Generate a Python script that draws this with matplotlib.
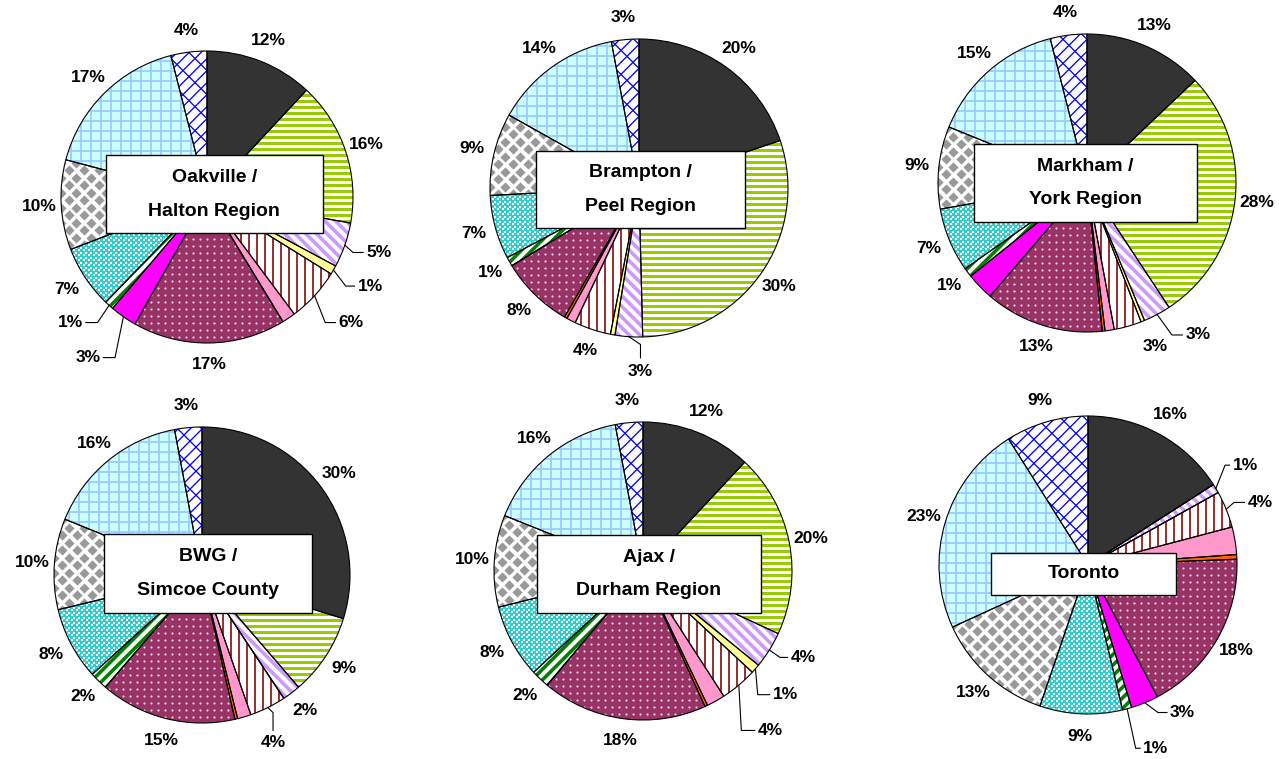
import numpy as np
import matplotlib
matplotlib.use("Agg")
import matplotlib.pyplot as plt
from matplotlib.collections import LineCollection
from matplotlib.patches import Rectangle

plt.rcParams["font.family"] = ["Liberation Sans", "DejaVu Sans"]

# ── Data: share (%) of each of the 14 segments, clockwise from 12 o'clock ──
SEGMENTS = ["s01", "s02", "s03", "s04", "s05", "s06", "s07",
            "s08", "s09", "s10", "s11", "s12", "s13", "s14"]

oakville = [12, 16, 5, 1, 6, 1.5, 0, 17, 3, 1, 7, 10, 17, 4]
brampton = [20, 30, 3, 0.5, 4, 1, 0.3, 8, 0, 1, 7, 9, 14, 3]
markham = [13, 28, 3, 0.4, 3, 1, 0.3, 13, 3, 1, 7, 9, 15, 4]
bwg = [30, 9, 2, 0, 4, 1.5, 0.3, 15, 0, 2, 8, 10, 16, 3]
ajax = [12, 20, 4, 1, 4, 2, 0.3, 18, 0, 2, 8, 10, 16, 3]
toronto = [16, 0, 1, 0, 4, 3, 0.5, 18, 3, 1, 9, 13, 23, 9]

titles = ["Oakville /\nHalton Region", "Brampton /\nPeel Region",
          "Markham /\nYork Region", "BWG /\nSimcoe County",
          "Ajax /\nDurham Region", "Toronto"]

# which slices carry a percentage label
shown = [
    [0, 1, 2, 3, 4, 7, 8, 9, 10, 11, 12, 13],
    [0, 1, 2, 4, 7, 9, 10, 11, 12, 13],
    [0, 1, 2, 4, 7, 9, 10, 11, 12, 13],
    [0, 1, 2, 4, 7, 9, 10, 11, 12, 13],
    [0, 1, 2, 3, 4, 7, 9, 10, 11, 12, 13],
    [0, 2, 4, 7, 8, 9, 10, 11, 12, 13],
]

# ── Layout ──
W, H = 1279, 759
E = 1.5  # half extent of each pie axes, in radii
# pie centre (px), radius (px), title box (cx, cy, w, h) in radii
PIES = [
    ((207, 197), 146, (0.05, 0.02, 1.49, 0.53)),
    ((639, 188), 149, (0.01, -0.01, 1.40, 0.52)),
    ((1087, 183), 149, (-0.01, 0.0, 1.50, 0.52)),
    ((202, 575), 148, (0.04, 0.01, 1.40, 0.53)),
    ((643, 571), 149, (0.04, -0.02, 1.50, 0.52)),
    ((1088, 565), 149, (-0.03, -0.06, 1.24, 0.28)),
]

# label overrides: slice -> (x, y, ha, leader points after the wedge edge)
OVERRIDES = [
    {2: (1.09, -0.38, "left", [(1.00, -0.38), (1.07, -0.38)]),
     3: (1.03, -0.61, "left", [(0.95, -0.61), (1.01, -0.61)]),
     4: (0.90, -0.86, "left", [(0.81, -0.86), (0.88, -0.86)]),
     8: (-0.73, -1.10, "right", [(-0.63, -1.10), (-0.71, -1.10)]),
     9: (-0.85, -0.86, "right", [(-0.75, -0.86), (-0.83, -0.86)])},
    {2: (0.01, -1.23, "center", [(0.01, -1.05), (0.01, -1.14)])},
    {2: (0.66, -1.02, "left", [(0.57, -1.02), (0.64, -1.02)]),
     4: (0.46, -1.10, "center", [])},
    {4: (0.48, -1.13, "center", [(0.48, -0.93), (0.48, -1.05)])},
    {2: (0.99, -0.58, "left", [(0.92, -0.58), (0.97, -0.58)]),
     3: (0.87, -0.83, "left", [(0.77, -0.83), (0.85, -0.83)]),
     4: (0.77, -1.07, "left", [(0.66, -1.07), (0.75, -1.07)])},
    {2: (0.97, 0.67, "left", [(0.92, 0.67), (0.95, 0.67)]),
     4: (1.07, 0.42, "left", [(0.98, 0.42), (1.05, 0.42)]),
     8: (0.55, -0.99, "left", [(0.47, -0.99), (0.53, -0.99)]),
     9: (0.37, -1.23, "left", [(0.32, -1.23), (0.35, -1.23)])},
]

# slice fills; textures are layered on afterwards
FILLS = ["#333333", "white", "white", "#ffff99", "white", "#ff99cc", "#ff6600",
         "#993366", "#ff00ff", "white", "#33cccc", "white", "#ccffff", "white"]

# line textures: slice -> list of (angle deg, spacing px, width px, colour)
LINES = {
    1: [(0, 6.0, 3.0, "#99cc00")],
    2: [(-45, 7.5, 3.6, "#cc99ff")],
    4: [(90, 8.0, 2.0, "#993333")],
    9: [(45, 7.5, 3.6, "#008000")],
    12: [(0, 10.0, 1.8, "#99ccff"), (90, 10.0, 1.8, "#99ccff")],
    13: [(45, 8.5, 1.3, "#0000ff"), (-45, 17.0, 1.3, "#0000ff")],
}
# marker textures: slice -> (marker, pitch px, size pt^2, colour, staggered)
MARKS = {
    7: ("o", 7.0, 2.4, "#f4dcea", False),
    10: ("s", 5.0, 3.2, "white", True),
    11: ("D", 15.0, 27, "#999999", True),
}


def line_texture(ax, wedge, angle, spacing, width, color, R):
    a = np.deg2rad(angle)
    d = np.array([np.cos(a), np.sin(a)])
    n = np.array([-np.sin(a), np.cos(a)])
    step = spacing / R
    segs = [[t * n - 1.6 * d, t * n + 1.6 * d]
            for t in np.arange(-1.6, 1.6 + step, step)]
    lc = LineCollection(segs, colors=color, linewidths=width * 0.72,
                        zorder=2, capstyle="butt")
    ax.add_collection(lc)
    lc.set_clip_path(wedge)


def mark_texture(ax, wedge, marker, pitch, size, color, stagger, R):
    step = pitch / R
    g = np.arange(-1.1, 1.1, step)
    gx, gy = np.meshgrid(g, g)
    px, py = gx.ravel(), gy.ravel()
    if stagger:
        px = np.concatenate([px, px + step / 2])
        py = np.concatenate([py, py + step / 2])
    sc = ax.scatter(px, py, marker=marker, s=size, color=color,
                    linewidths=0, zorder=2)
    sc.set_clip_path(wedge)


fig = plt.figure(figsize=(W / 100, H / 100), dpi=100)
fig.patch.set_facecolor("white")

for k, values in enumerate([oakville, brampton, markham, bwg, ajax, toronto]):
    (cx, cy), R, box = PIES[k]
    ax = fig.add_axes([(cx - E * R) / W, (H - cy - E * R) / H,
                       2 * E * R / W, 2 * E * R / H])

    wedges, _ = ax.pie(values, startangle=90, counterclock=False,
                       colors=FILLS, wedgeprops=dict(linewidth=0))
    for i, w in enumerate(wedges):
        for spec in LINES.get(i, []):
            line_texture(ax, w, *spec, R)
        if i in MARKS:
            mark_texture(ax, w, *MARKS[i], R)

    # outlines on top
    ax.pie(values, startangle=90, counterclock=False,
           wedgeprops=dict(facecolor="none", edgecolor="black", linewidth=0.8,
                           zorder=3))

    # percentage labels
    total = float(sum(values))
    start = 90.0
    for i, v in enumerate(values):
        theta = start - 360.0 * (v / total) / 2
        start -= 360.0 * v / total
        if i not in shown[k]:
            continue
        ang = np.deg2rad(theta)
        txt = f"{v:.0f}%"
        if i in OVERRIDES[k]:
            x, y, ha, pts = OVERRIDES[k][i]
            if pts:
                lx = [np.cos(ang)] + [p[0] for p in pts]
                ly = [np.sin(ang)] + [p[1] for p in pts]
                ax.plot(lx, ly, color="black", lw=0.8, zorder=4)
        else:
            x, y, ha = 1.15 * np.cos(ang), 1.15 * np.sin(ang), "center"
        ax.text(x, y, txt, ha=ha, va="center", fontsize=12.5,
                fontweight="bold", color="black", zorder=6)

    # title box
    bx, by, bw, bh = box
    ax.add_patch(Rectangle((bx - bw / 2, by - bh / 2), bw, bh,
                           facecolor="white", edgecolor="black",
                           linewidth=1.0, zorder=5))
    ax.text(bx, by, titles[k], ha="center", va="center", fontsize=14,
            fontweight="bold", linespacing=2.3, zorder=6)

    ax.set_xlim(-E, E)
    ax.set_ylim(-E, E)
    ax.set_aspect("equal", adjustable="box")
    ax.axis("off")

fig.savefig("out.png", dpi=100, facecolor="white")
